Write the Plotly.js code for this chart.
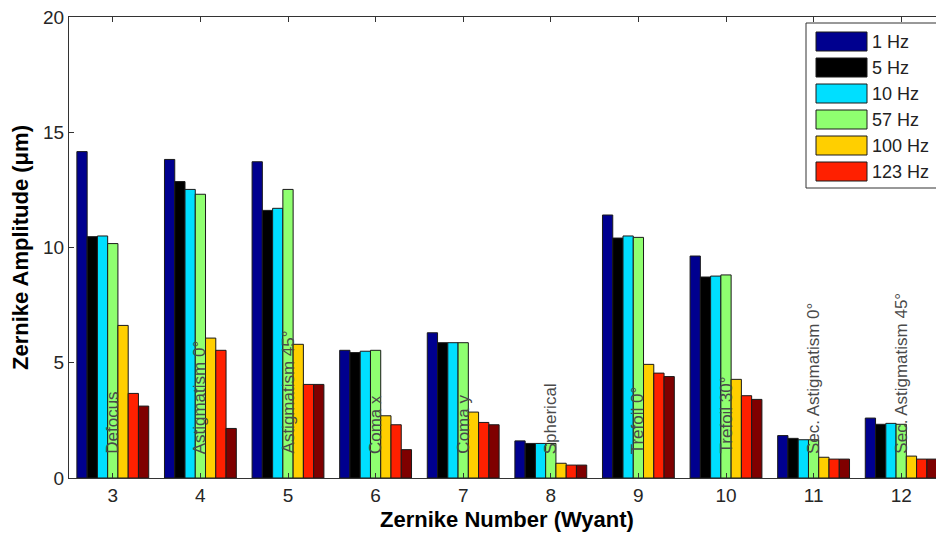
<!DOCTYPE html>
<html>
<head>
<meta charset="utf-8">
<script src="https://cdn.plot.ly/plotly-3.0.1.min.js"></script>
<style>
  html, body { margin: 0; padding: 0; overflow: hidden; background: #fff; }
  #chart { width: 960px; height: 533px; }
</style>
</head>
<body>
<div id="chart"></div>
<script>
// ---- Data ----
const zernikeNumbers = [3, 4, 5, 6, 7, 8, 9, 10, 11, 12];
const aberrationNames = ["Defocus", "Astigmatism 0°", "Astigmatism 45°", "Coma x", "Coma y",
  "Spherical", "Trefoil 0°", "Trefoil 30°", "Sec. Astigmatism 0°", "Sec. Astigmatism 45°"];

const seriesNames = ["1 Hz", "5 Hz", "10 Hz", "57 Hz", "100 Hz", "123 Hz", ""];
const seriesColors = ["#00008F", "#000000", "#00DFFF", "#8FFF70", "#FFCF00", "#FF2000", "#7F0000"];

const amp1Hz   = [14.16, 13.82, 13.72, 5.54, 6.30, 1.61, 11.41, 9.63, 1.84, 2.60];
const amp5Hz   = [10.47, 12.86, 11.61, 5.44, 5.87, 1.50, 10.41, 8.72, 1.72, 2.33];
const amp10Hz  = [10.50, 12.52, 11.70, 5.50, 5.87, 1.50, 10.50, 8.76, 1.66, 2.37];
const amp57Hz  = [10.17, 12.31, 12.52, 5.54, 5.87, 1.50, 10.44, 8.81, 1.66, 2.33];
const amp100Hz = [6.62, 6.07, 5.80, 2.70, 2.86, 0.64, 4.93, 4.28, 0.90, 0.95];
const amp123Hz = [3.67, 5.54, 4.06, 2.31, 2.41, 0.56, 4.55, 3.57, 0.82, 0.82];
const ampExtra = [3.12, 2.15, 4.06, 1.23, 2.31, 0.56, 4.40, 3.41, 0.82, 0.82];

const yTicks = [0, 5, 10, 15, 20];
const labelBaseY = 1.0;

// ---- Build ----
const FONT = 'Liberation Sans, Arial, sans-serif';
const allSeries = [amp1Hz, amp5Hz, amp10Hz, amp57Hz, amp100Hz, amp123Hz, ampExtra];
const traces = allSeries.map((vals, i) => ({
  type: 'bar',
  x: zernikeNumbers,
  y: vals,
  name: seriesNames[i],
  showlegend: false,
  marker: { color: seriesColors[i], line: { color: '#1a1a1a', width: 1 } },
  hoverinfo: 'x+y+name'
}));

const annotations = aberrationNames.map((t, i) => ({
  x: zernikeNumbers[i], y: labelBaseY, xref: 'x', yref: 'y',
  text: t, textangle: -90, showarrow: false,
  xanchor: 'center', yanchor: 'bottom', borderpad: 0,
  font: { family: FONT, size: 17, color: '#4a4a4a' }
}));

// Custom legend (box with large swatches), in paper coordinates
const plotL = 69, plotR = 945, plotT = 17, plotB = 478;
const px = v => (v - plotL) / (plotR - plotL);
const py = v => (plotB - v) / (plotB - plotT);
const shapes = [{
  type: 'rect', xref: 'paper', yref: 'paper',
  x0: px(806), x1: px(950), y0: py(188), y1: py(23),
  line: { color: '#333', width: 1 }, fillcolor: '#ffffff', layer: 'above'
}];
for (let i = 0; i < 6; i++) {
  const cy = 41.5 + 26 * i;
  shapes.push({
    type: 'rect', xref: 'paper', yref: 'paper',
    x0: px(816), x1: px(867), y0: py(cy + 9.5), y1: py(cy - 9.5),
    line: { color: '#1a1a1a', width: 1 }, fillcolor: seriesColors[i], layer: 'above'
  });
  annotations.push({
    xref: 'paper', yref: 'paper', x: px(870), y: py(cy),
    xanchor: 'left', yanchor: 'middle', showarrow: false, text: seriesNames[i],
    font: { family: FONT, size: 18, color: '#222' }
  });
}

const layout = {
  width: 960, height: 533,
  margin: { l: plotL, r: 960 - plotR, t: plotT, b: 533 - plotB },
  paper_bgcolor: '#ffffff', plot_bgcolor: '#ffffff',
  barmode: 'group', bargap: 0.18, bargroupgap: 0,
  font: { family: FONT, color: '#222' },
  xaxis: {
    range: [2.5, 12.5], tickvals: zernikeNumbers, ticktext: zernikeNumbers.map(String),
    ticks: 'inside', ticklen: 5, tickcolor: '#333', showline: true, linecolor: '#333',
    mirror: 'ticks', showgrid: false, zeroline: false,
    tickfont: { size: 19, color: '#262626' },
    title: { text: 'Zernike Number (Wyant)', font: { size: 22, color: '#000', weight: 'bold' }, standoff: 6 }
  },
  yaxis: {
    range: [0, 20], tickvals: yTicks, ticktext: yTicks.map(String),
    ticks: 'inside', ticklen: 5, tickcolor: '#333', showline: true, linecolor: '#333',
    mirror: 'ticks', showgrid: false, zeroline: false,
    tickfont: { size: 19, color: '#262626' },
    title: { text: 'Zernike Amplitude (μm)', font: { size: 22, color: '#000', weight: 'bold' }, standoff: 8 }
  },
  annotations: annotations,
  shapes: shapes
};

Plotly.newPlot('chart', traces, layout, { displayModeBar: false, staticPlot: true });
</script>
</body>
</html>
